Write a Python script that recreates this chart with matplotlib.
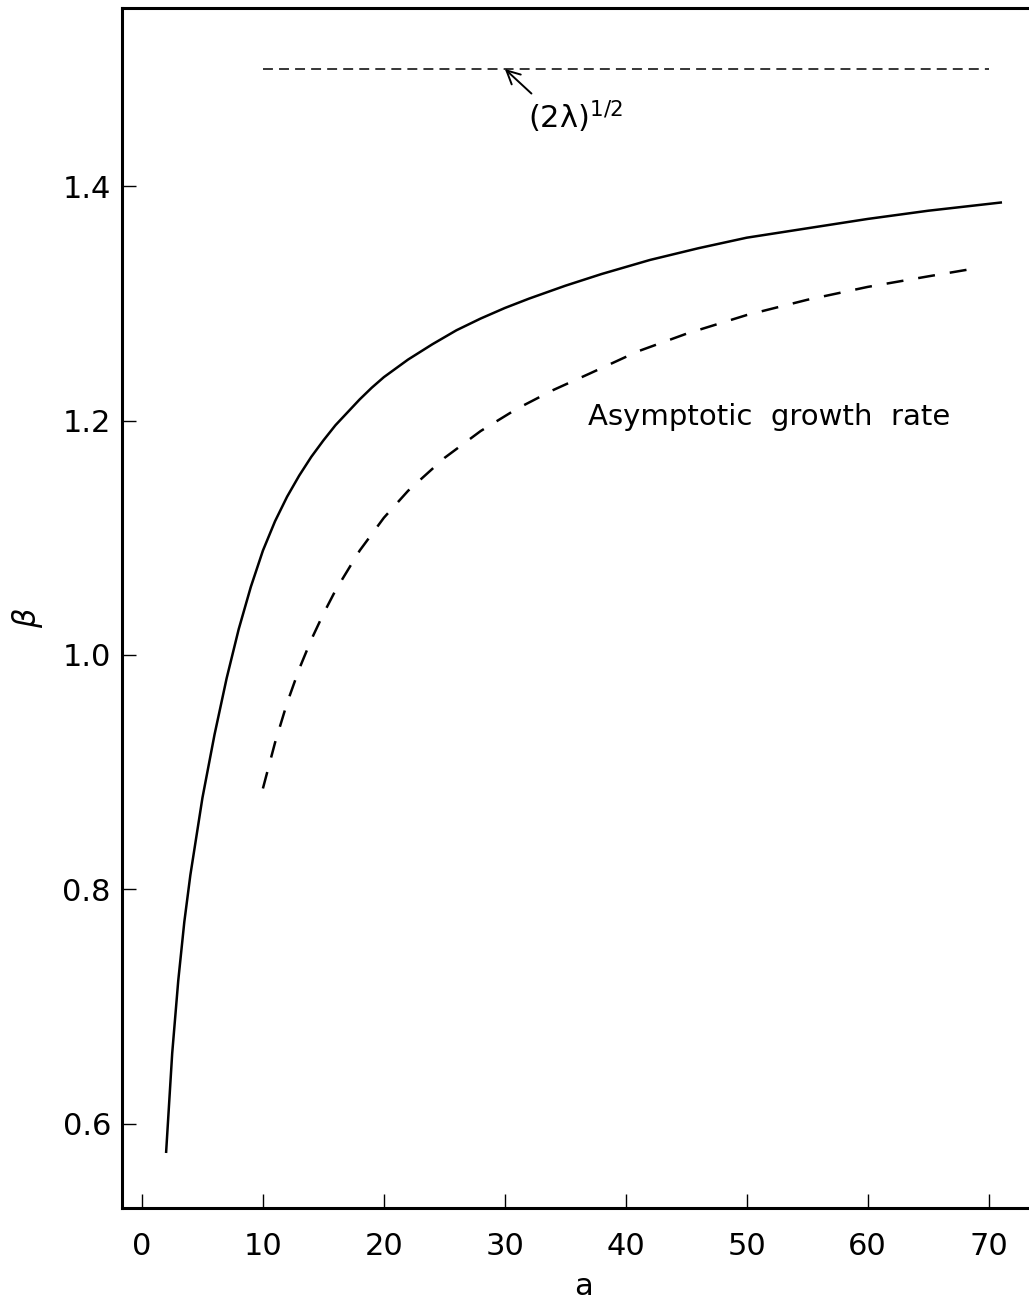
import matplotlib
matplotlib.use('Agg')
import matplotlib.pyplot as plt

# solid curve
alpha_solid = [2.0, 2.5, 3.0, 3.5, 4.0, 5.0, 6.0, 7.0, 8.0, 9.0, 10.0, 11.0, 12.0, 13.0,
               14.0, 15.0, 16.0, 17.0, 18.0, 19.0, 20.0, 22.0, 24.0, 26.0, 28.0, 30.0,
               32.0, 35.0, 38.0, 42.0, 46.0, 50.0, 55.0, 60.0, 65.0, 71.0]
beta_solid = [0.576, 0.660, 0.722, 0.772, 0.812, 0.878, 0.932, 0.980, 1.022, 1.058, 1.089,
              1.114, 1.135, 1.153, 1.169, 1.183, 1.196, 1.207, 1.218, 1.228, 1.237, 1.252,
              1.265, 1.277, 1.287, 1.296, 1.304, 1.315, 1.325, 1.337, 1.347, 1.356, 1.364,
              1.372, 1.379, 1.386]

# dashed curve
alpha_dashed = [10.0, 11.0, 12.0, 13.0, 14.0, 15.0, 16.0, 18.0, 20.0, 22.0, 25.0, 28.0,
                31.0, 34.0, 37.0, 41.0, 45.0, 50.0, 55.0, 60.0, 65.0, 69.0]
beta_dashed = [0.886, 0.925, 0.959, 0.988, 1.013, 1.035, 1.055, 1.089, 1.117, 1.140, 1.168,
               1.191, 1.210, 1.226, 1.240, 1.259, 1.274, 1.290, 1.303, 1.314, 1.323, 1.330]

# (2 lambda)^(1/2) level
limit_level = 1.5
limit_alpha = [10, 70]

xticks = [0, 10, 20, 30, 40, 50, 60, 70]
yticks = [0.6, 0.8, 1.0, 1.2, 1.4]

fig = plt.figure(figsize=(10.29, 12.99), dpi=100)
ax = fig.add_axes([122 / 1029, 1 - 1208 / 1299, 909 / 1029, 1200 / 1299])

ax.plot(alpha_solid, beta_solid, color='k', lw=1.8)
ax.plot(alpha_dashed, beta_dashed, color='k', lw=1.8, dashes=(6.8, 6.0))
ax.plot(limit_alpha, [limit_level] * 2, color='k', lw=1.1, dashes=(6.5, 4.0))

ax.annotate('', xy=(30, limit_level), xytext=(32.2, 1.479),
            arrowprops=dict(arrowstyle='->', lw=1.4, color='k',
                            shrinkA=0, shrinkB=0, mutation_scale=24))
ax.text(31.9, 1.449, r'(2λ)$^{\mathregular{1/2}}$', fontsize=22,
        ha='left', va='baseline')
ax.text(36.9, 1.196, 'Asymptotic  growth  rate', fontsize=21,
        ha='left', va='baseline')

ax.set_xlim(-1.65, 73.5)
ax.set_ylim(0.528, 1.552)
ax.set_xticks(xticks)
ax.set_yticks(yticks)
ax.tick_params(axis='both', direction='in', length=10, width=1.0, labelsize=22)
ax.tick_params(axis='x', pad=17)
ax.tick_params(axis='y', pad=8)

for s in ['left', 'bottom', 'top']:
    ax.spines[s].set_linewidth(2.2)
ax.spines['right'].set_visible(False)

ax.set_xlabel('a', fontsize=22)
ax.xaxis.label.set_va('baseline')
ax.xaxis.set_label_coords(0.508, -0.0725)
ax.set_ylabel(r'$\beta$', fontsize=22)
ax.yaxis.label.set_va('center')
ax.yaxis.set_label_coords(-0.1045, 0.492)

plt.savefig('out.png', dpi=100)
